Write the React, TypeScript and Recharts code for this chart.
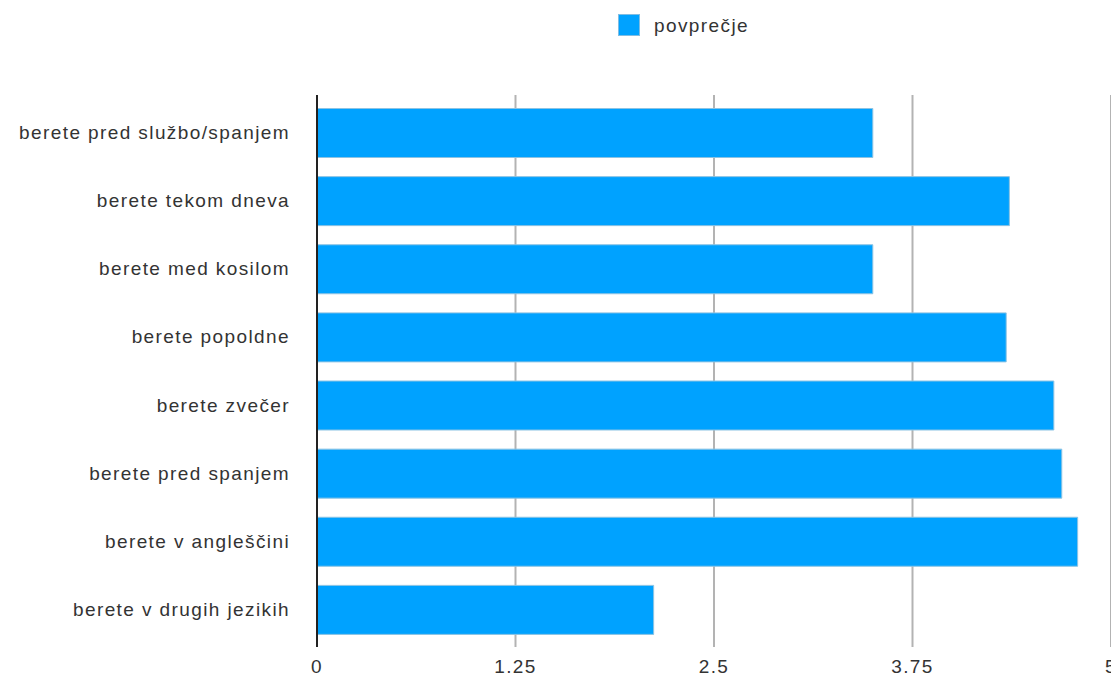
import React from 'react';
import { BarChart, Bar, XAxis, YAxis, CartesianGrid, Legend } from 'recharts';

const categories = [
  'berete pred službo/spanjem',
  'berete tekom dneva',
  'berete med kosilom',
  'berete popoldne',
  'berete zvečer',
  'berete pred spanjem',
  'berete v angleščini',
  'berete v drugih jezikih',
];
const averages = [3.5, 4.36, 3.5, 4.34, 4.64, 4.69, 4.79, 2.12];
const xTicks = [0, 1.25, 2.5, 3.75, 5];
const seriesName = 'povprečje';

const data = categories.map((name, i) => ({ name, value: averages[i] }));

const FONT = '"Liberation Sans", Arial, Helvetica, sans-serif';
const TEXT = '#333333';
const BLUE = '#00A2FF';
const FS = 19;
const LS = '1.4px';

const YTick = (props: any) => {
  const { x, y, payload } = props;
  return (
    <text
      x={x}
      y={y}
      textAnchor="end"
      dominantBaseline="central"
      fontFamily={FONT}
      fontSize={FS}
      fill={TEXT}
      style={{ letterSpacing: LS }}
    >
      {payload.value}
    </text>
  );
};

const XTick = (props: any) => {
  const { x, y, payload } = props;
  return (
    <text
      x={x}
      y={y}
      dy={12}
      textAnchor="middle"
      fontFamily={FONT}
      fontSize={FS}
      fill={TEXT}
      style={{ letterSpacing: LS }}
    >
      {String(payload.value)}
    </text>
  );
};

const LegendContent = () => (
  <div style={{ position: 'relative', width: 1119, height: 95 }}>
    <div
      style={{
        position: 'absolute',
        left: 618,
        top: 14,
        width: 22,
        height: 22,
        background: BLUE,
        boxSizing: 'border-box',
        border: '1px solid #7fbde3',
      }}
    />
    <div
      style={{
        position: 'absolute',
        left: 654,
        top: 15,
        height: 22,
        lineHeight: '22px',
        fontFamily: FONT,
        fontSize: FS,
        color: TEXT,
        letterSpacing: LS,
        whiteSpace: 'nowrap',
      }}
    >
      {seriesName}
    </div>
  </div>
);

export default function App() {
  return (
    <div style={{ marginLeft: -8, marginTop: -8, width: 1119, height: 677, background: '#fff' }}>
      <BarChart
        width={1119}
        height={677}
        data={data}
        layout="vertical"
        margin={{ top: 0, right: 8, bottom: 0, left: 0 }}
        barSize={49}
      >
        <Legend
          verticalAlign="top"
          align="left"
          content={<LegendContent />}
          wrapperStyle={{ top: 0, left: 0, width: 1119, height: 95 }}
        />
        <CartesianGrid horizontal={false} vertical={true} stroke="#b3b3b3" strokeWidth={2} />
        <XAxis
          type="number"
          domain={[0, 5]}
          ticks={xTicks}
          axisLine={false}
          tickLine={false}
          tickSize={0}
          tickMargin={14}
          height={30}
          tick={<XTick />}
          interval={0}
        />
        <YAxis
          type="category"
          dataKey="name"
          width={317}
          axisLine={{ stroke: '#222222', strokeWidth: 2 }}
          tickLine={false}
          tickSize={0}
          tickMargin={27}
          padding={{ top: 3.5, bottom: 3.5 }}
          tick={<YTick />}
          interval={0}
        />
        <Bar
          dataKey="value"
          name={seriesName}
          fill={BLUE}
          stroke="#8cc3e3"
          strokeWidth={1}
          isAnimationActive={false}
        />
      </BarChart>
    </div>
  );
}
